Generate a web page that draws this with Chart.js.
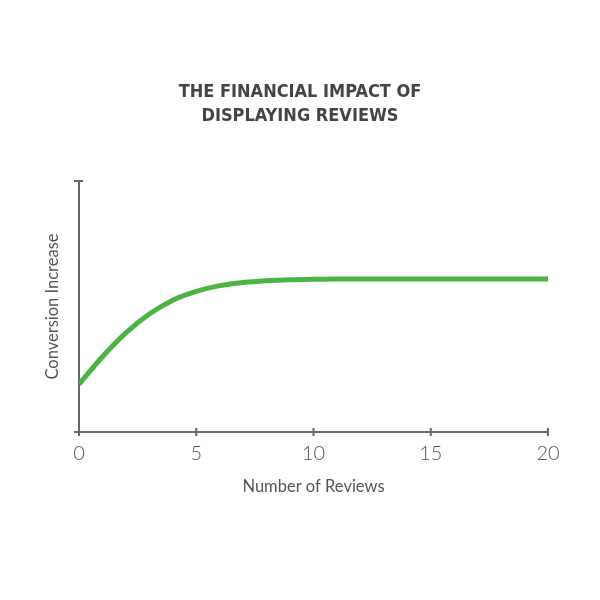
<!DOCTYPE html>
<html>
<head>
<meta charset="utf-8">
<script src="https://cdn.jsdelivr.net/npm/chart.js@4.4.0/dist/chart.umd.min.js"></script>
<style>
  body { margin: 0; background: #fff; }
  #wrap { width: 600px; height: 600px; }
</style>
</head>
<body>
<div id="wrap"><canvas id="myChart" width="600" height="600"></canvas></div>
<script>
// donnees
var reviews = [0, 1, 2, 3, 4, 5, 6, 7, 8, 9, 10, 11, 12, 13, 14, 15, 16, 17, 18, 19, 20];
var conversion = [19, 30, 39.5, 47, 52.5, 56, 58.3, 59.6, 60.3, 60.7, 60.9, 61, 61, 61, 61, 61, 61, 61, 61, 61, 61];
var xTicks = [0, 5, 10, 15, 20];

var axisColor = '#666666';

// petits traits qui traversent les axes
var crossTicks = {
    id: 'crossTicks',
    afterDraw: function(chart) {
        var ctx = chart.ctx;
        var x = chart.scales.x;
        var y = chart.scales.y;
        var y0 = y.getPixelForValue(0);
        var x0 = x.getPixelForValue(0);
        ctx.save();
        ctx.strokeStyle = axisColor;
        ctx.lineWidth = 2;
        ctx.beginPath();
        xTicks.forEach(function(v) {
            var px = x.getPixelForValue(v);
            ctx.moveTo(px, y0 - 4);
            ctx.lineTo(px, y0 + 4);
        });
        [0, 100].forEach(function(v) {
            var py = y.getPixelForValue(v);
            ctx.moveTo(x0 - 5, py);
            ctx.lineTo(x0 + 4, py);
        });
        ctx.stroke();
        ctx.restore();
    }
};

var ctx = document.getElementById('myChart').getContext('2d');
var myChart = new Chart(ctx, {
    type: 'line',
    data: {
        datasets: [{
            data: reviews.map(function(r, i) { return { x: r, y: conversion[i] }; }),
            borderColor: '#4db443',
            borderWidth: 5,
            pointRadius: 0,
            cubicInterpolationMode: 'monotone',
            fill: false
        }]
    },
    options: {
        responsive: false,
        animation: false,
        layout: { padding: { top: 80, left: 52, right: 52, bottom: 0 } },
        plugins: {
            legend: { display: false },
            tooltip: { enabled: false },
            title: {
                display: true,
                text: ['THE FINANCIAL IMPACT OF', 'DISPLAYING REVIEWS'],
                color: '#444444',
                font: { family: 'DejaVu Sans Condensed', size: 18, weight: 'bold', lineHeight: 1.333 },
                padding: { top: 0, bottom: 53 }
            }
        },
        scales: {
            x: {
                type: 'linear',
                min: 0,
                max: 20,
                afterFit: function(s) { s.height = 168; },
                afterBuildTicks: function(s) { s.ticks = xTicks.map(function(v) { return { value: v }; }); },
                grid: { display: false, drawTicks: false },
                border: { display: true, color: axisColor, width: 2 },
                ticks: {
                    color: '#555555',
                    padding: 10,
                    maxRotation: 0,
                    font: { family: 'Lato', size: 20, weight: 300 }
                },
                title: {
                    display: true,
                    text: 'Number of Reviews',
                    color: '#555555',
                    font: { family: 'Lato', size: 16.5, weight: 400 },
                    padding: { top: 0, bottom: 103 }
                }
            },
            y: {
                min: 0,
                max: 100,
                afterFit: function(s) { s.width = 27; },
                grid: { display: false, drawTicks: false },
                border: { display: true, color: axisColor, width: 2 },
                ticks: { display: false },
                title: {
                    display: true,
                    text: 'Conversion Increase',
                    color: '#555555',
                    font: { family: 'Lato', size: 16.5, weight: 400 },
                    padding: { top: -9, bottom: 0 }
                }
            }
        }
    },
    plugins: [crossTicks]
});
</script>
</body>
</html>
